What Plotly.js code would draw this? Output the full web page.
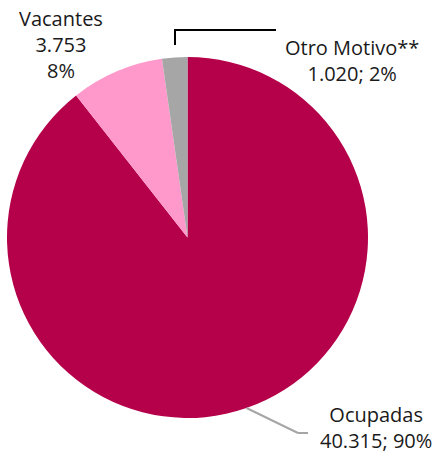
<!DOCTYPE html>
<html><head><meta charset="utf-8">
<script src="https://cdn.plot.ly/plotly-3.0.1.min.js"></script>
<style>html,body{margin:0;padding:0;background:#fff}</style>
</head><body>
<div id="chart" style="width:435px;height:455px"></div>
<script>
const labels = ["Ocupadas", "Vacantes", "Otro Motivo**"];
const values = [40315, 3753, 1020];
const valueText = ["40.315", "3.753", "1.020"];
const pctText = ["90%", "8%", "2%"];
const colors = ["#B5004A", "#FF99CC", "#A6A6A6"];

const W = 435, H = 455;
const px = x => x / W, py = y => 1 - y / H;
const cx = 187.5, cy = 237.5, r = 180.5;
const FONT = {family: "Segoe UI, Open Sans, Noto Sans, sans-serif", size: 20, color: "#1a1a1a"};

const blocks = [
  {text: labels[1] + "<br>" + valueText[1] + "<br>" + pctText[1], x: 61, y: 45, ya: "middle"},
  {text: labels[2] + "<br>" + valueText[2] + "; " + pctText[2], x: 352, y: 61, ya: "middle"},
  {text: labels[0] + "<br>" + valueText[0] + "; " + pctText[0], x: 376, y: 455, ya: "bottom"}
];
const annotations = blocks.map(b => ({
  text: b.text, xref: "paper", yref: "paper", x: px(b.x), y: py(b.y),
  xanchor: "center", yanchor: b.ya, align: "center", showarrow: false, font: FONT, borderpad: 0
}));

const shapes = [
  {type: "line", xref: "paper", yref: "paper", x0: px(175), y0: py(45), x1: px(175), y1: py(30), line: {color: "#000", width: 2}},
  {type: "line", xref: "paper", yref: "paper", x0: px(174), y0: py(30), x1: px(276), y1: py(30), line: {color: "#000", width: 2}},
  {type: "line", xref: "paper", yref: "paper", x0: px(246.5), y0: py(408), x1: px(298), y1: py(433), line: {color: "#A6A6A6", width: 2}},
  {type: "line", xref: "paper", yref: "paper", x0: px(298), y0: py(433), x1: px(308), y1: py(433), line: {color: "#A6A6A6", width: 2}}
];

Plotly.newPlot("chart", [{
  type: "pie", labels: labels, values: values, sort: false,
  direction: "clockwise", rotation: 0,
  marker: {colors: colors, line: {width: 0}},
  textinfo: "none", hoverinfo: "label+value+percent",
  domain: {x: [px(cx - r), px(cx + r)], y: [py(cy + r), py(cy - r)]}
}], {
  width: W, height: H, margin: {l: 0, r: 0, t: 0, b: 0},
  showlegend: false, paper_bgcolor: "#fff",
  annotations: annotations, shapes: shapes
}, {displayModeBar: false, staticPlot: true});
</script>
</body></html>
